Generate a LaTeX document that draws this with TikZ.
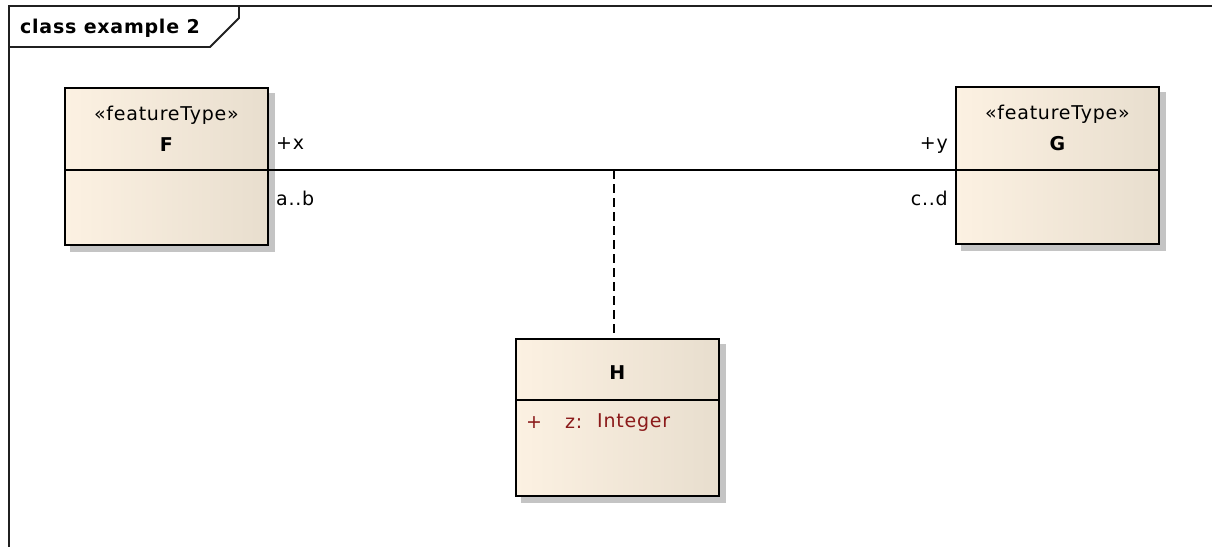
\documentclass[tikz,border=0pt]{standalone}
\usepackage{fontspec}
\setmainfont{DejaVu Sans}[LetterSpace=4]
\usetikzlibrary{positioning,calc,backgrounds}
\definecolor{clsleft}{HTML}{FCF1E2}
\definecolor{clsright}{HTML}{E8DECE}
\definecolor{shadowgray}{HTML}{C4C4C4}
\definecolor{attrred}{HTML}{8B1A1A}
\definecolor{framegray}{HTML}{202020}

\begin{document}
\begin{tikzpicture}[x=1pt, y=-1pt,
  cls/.style={draw=black, line width=1.8pt, left color=clsleft, right color=clsright, minimum width=203pt, minimum height=157pt, anchor=north west, inner sep=0pt},
  txt/.style={font=\fontsize{19}{22}\selectfont, inner sep=0pt},
  clsname/.style={txt, font=\fontsize{19}{22}\selectfont\bfseries},
  lbl/.style={txt},
  attr/.style={txt, text=attrred, anchor=west},
  divider/.style={line width=1.8pt},
  assoc/.style={line width=1.5pt},
  frame/.style={line width=1.8pt, draw=framegray},
]
  \useasboundingbox (0,0) rectangle (1212,547);

  % Frame with tab
  \draw[frame] (1212,6) -- (9,6) -- (9,547);
  \draw[frame] (9,47) -- (210,47) -- (239,18) -- (239,6);
  \node[clsname, anchor=west] (title) at (20,28) {class example 2};

  % Classes
  \node[cls] (F) at (64,87) {};
  \node[cls] (G) at (955,86) {};
  \node[cls] (H) at (515,338) {};

  \begin{scope}[on background layer]
    \fill[shadowgray] ($(F.north west)+(6,6)$) rectangle ($(F.south east)+(6,6)$);
    \fill[shadowgray] ($(G.north west)+(6,6)$) rectangle ($(G.south east)+(6,6)$);
    \fill[shadowgray] ($(H.north west)+(6,6)$) rectangle ($(H.south east)+(6,6)$);
  \end{scope}

  % Compartments
  \coordinate (Fl) at ($(F.north west)+(0,83)$);
  \coordinate (Fr) at ($(F.north east)+(0,83)$);
  \coordinate (Gl) at ($(G.north west)+(0,84)$);
  \coordinate (Gr) at ($(G.north east)+(0,84)$);
  \coordinate (Hl) at ($(H.north west)+(0,62)$);
  \coordinate (Hr) at ($(H.north east)+(0,62)$);
  \draw[divider] (Fl) -- (Fr);
  \draw[divider] (Gl) -- (Gr);
  \draw[divider] (Hl) -- (Hr);

  \node[txt] (Fstereo) at ($(F.north)+(0,28)$) {«featureType»};
  \node[clsname] (Fname) at ($(F.north)+(0,58)$) {F};
  \node[txt] (Gstereo) at ($(G.north)+(0,28)$) {«featureType»};
  \node[clsname] (Gname) at ($(G.north)+(0,58)$) {G};
  \node[clsname] (Hname) at ($(H.north)+(0,35)$) {H};

  \node[attr] (Hvis) at (526,423) {+};
  \node[attr] (Hattr) at (565,423) {z:};
  \node[attr] (Htype) at (597,423) {Integer};

  % Association and association class
  \draw[assoc] (Fr) -- (Gl);
  \coordinate (mid) at (614,170);
  \draw[assoc, dash pattern=on 9pt off 5pt] (mid) -- (mid |- H.north);

  % Role names and multiplicities
  \node[lbl, anchor=west] (Frole) at (276,144) {+x};
  \node[lbl, anchor=west] (Fmult) at (276,198) {a..b};
  \node[lbl, anchor=east] (Grole) at (948,146) {+y};
  \node[lbl, anchor=east] (Gmult) at (948,198) {c..d};
\end{tikzpicture}
\end{document}
